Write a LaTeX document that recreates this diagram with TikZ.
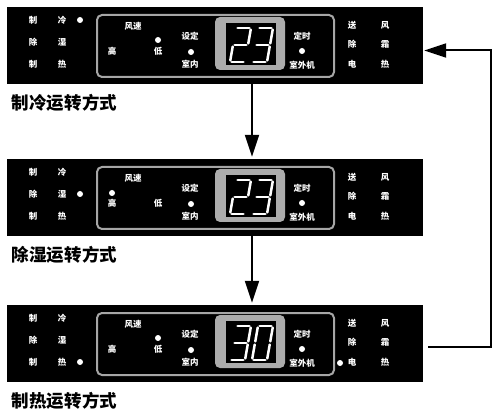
\documentclass[tikz,border=0pt]{standalone}
\usepackage{fontspec}
\newfontfamily\cjk{Noto Sans CJK SC}
\usetikzlibrary{arrows.meta,positioning}

\begin{document}
\begin{tikzpicture}[x=1pt,y=-1pt,
      panel_box/.style={
         rectangle,
         fill=black,
         inner sep=0pt,
         minimum width=416pt,
         minimum height=77pt},
      frame_line/.style={
         draw=gray!70,
         line width=2pt,
         rounded corners=5pt},
      disp_frame/.style={
         fill=gray!65,
         rounded corners=5pt},
      led_txt/.style={
         text=white,
         inner sep=0pt,
         font=\cjk\bfseries\fontsize{8.5}{8.5}\selectfont},
      led_dot/.style={
         circle,
         fill=white,
         inner sep=0pt,
         minimum size=6pt},
      seg_line/.style={
         white,
         line width=2.5pt,
         line cap=round,
         shorten <=1.6pt,
         shorten >=1.6pt},
      caption_txt/.style={
         inner sep=0pt,
         font=\cjk\bfseries\fontsize{17.5}{17.5}\selectfont},
      arrow_flow/.style={
        -{Triangle[width=14pt,length=22pt]},
        line width=2pt,
        }
]
      \useasboundingbox (0,0) rectangle (492,411);

      %panels
      \foreach \i/\T/\my/\fx/\fy in {1/7/13/158/33, 2/159/35/112/34, 3/305/57/158/33}{
        \node[panel_box] (p\i) at (215,\T+38.5) {};
        \draw[frame_line] (97,\T+8) rectangle (334,\T+70);
        \fill[disp_frame] (215,\T+10) rectangle (285,\T+63);
        \fill[black] (226,\T+16) rectangle (276,\T+58);
        \foreach \c/\x/\y/\n in {% text/x/y/name
          制/33/13/a, 冷/62/13/b, 除/33/35/c, 湿/62/35/d, 制/33/57/e, 热/62/57/f,
          风速/133/19/g, 高/112/44/h, 低/158/44/k,
          设定/190/29/l, 室内/190/57/m, 定时/302/29/n, 室外机/302/58/o,
          送/352/18/q, 风/385/18/r, 除/352/37/s, 霜/385/37/t, 电/352/57/u, 热/385/57/v}
          \node[led_txt] (t\i\n) at (\x,\T+\y) {\c};
        \node[led_dot] (mode\i) at (80,\T+\my) {};
        \node[led_dot] (fan\i) at (\fx,\T+\fy) {};
        \node[led_dot] (set\i) at (191,\T+45) {};
        \node[led_dot] (tim\i) at (302,\T+44) {};
      }
      \node[led_dot] (heat3) at (340,363) {};

      %digits
      \foreach \T/\dx/\segs in {% panel top/left/segments
        7/230/{TL/TR,TR/MR,MR/ML,ML/BL,BL/BR},
        7/252/{TL/TR,TR/MR,ML/MR,MR/BR,BL/BR},
        159/230/{TL/TR,TR/MR,MR/ML,ML/BL,BL/BR},
        159/252/{TL/TR,TR/MR,ML/MR,MR/BR,BL/BR},
        305/230/{TL/TR,TR/MR,ML/MR,MR/BR,BL/BR},
        305/252/{TL/TR,TR/MR,MR/BR,BL/BR,ML/BL,TL/ML}}{
        \coordinate (TL) at (\dx+6,\T+21);
        \coordinate (TR) at (\dx+21,\T+21);
        \coordinate (ML) at (\dx+3,\T+38);
        \coordinate (MR) at (\dx+18,\T+38);
        \coordinate (BL) at (\dx,\T+55);
        \coordinate (BR) at (\dx+15,\T+55);
        \foreach \a/\b in \segs
          \draw[seg_line] (\a) -- (\b);
      }

      %captions
      \node[caption_txt,below right=10pt and 5pt of p1.south west] (c1) {制冷运转方式};
      \node[caption_txt,below right=10pt and 5pt of p2.south west] (c2) {除湿运转方式};
      \node[caption_txt,below right=10pt and 5pt of p3.south west] (c3) {制热运转方式};

      %arrows
      \coordinate (ax) at (252,0);
      \draw[arrow_flow] (p1.south -| ax) -- ([yshift=2pt]p2.north -| ax);
      \draw[arrow_flow] (p2.south -| ax) -- ([yshift=2pt]p3.north -| ax);
      \draw[arrow_flow] ([xshift=5pt,yshift=-3pt]p3.east) -- ++(63,0) |- ([xshift=1pt,yshift=-5pt]p1.east);

\end{tikzpicture}
\end{document}
